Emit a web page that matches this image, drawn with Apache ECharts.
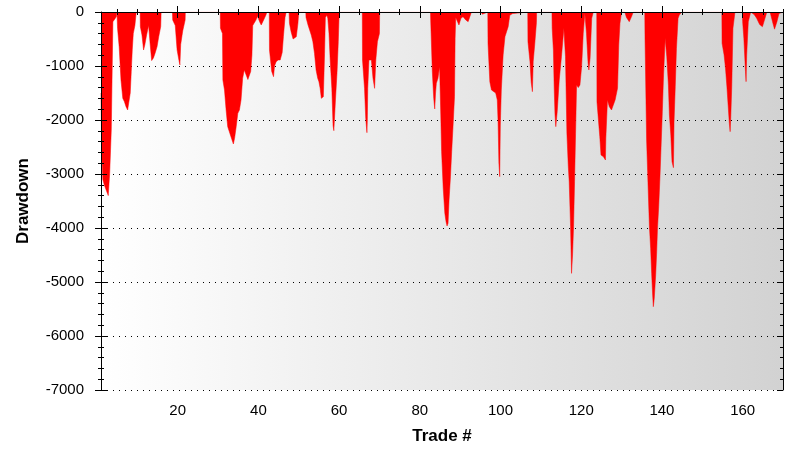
<!DOCTYPE html>
<html>
<head>
<meta charset="utf-8">
<script src="https://cdn.jsdelivr.net/npm/echarts@6/dist/echarts.min.js"></script>
<style>
html,body{margin:0;padding:0;background:#fff;}
#chart{width:812px;height:462px;}
</style>
</head>
<body>
<div id="chart"></div>
<script>
// Trade number (x) of each drawdown sample
const tradeNo = [
  1.0,1.2,1.45,1.8,2.3,2.8,3.05,3.15,3.45,3.55,3.7,3.88,3.95,4.3,4.8,4.95,
  5.1,5.5,5.95,6.4,6.8,7.2,7.6,7.85,8.05,8.25,8.5,8.75,9.0,9.4,9.65,9.75,
  10.7,10.75,11.15,11.55,11.75,11.85,12.3,12.8,13.0,13.2,13.55,13.75,14.0,14.4,14.9,15.3,15.8,15.9,
  18.7,18.77,19.4,19.85,20.3,20.55,20.75,21.25,21.85,21.9,
  30.55,30.6,31.1,31.2,31.6,32.0,32.4,32.8,33.2,33.8,34.1,34.5,34.9,35.3,35.7,36.1,36.5,36.96,37.4,37.8,38.1,38.4,38.6,39.4,39.8,40.3,40.7,41.1,41.9,42.1,
  42.7,42.75,43.3,43.75,44.0,44.4,44.9,45.4,45.9,46.2,46.6,46.9,
  47.6,47.7,48.1,48.6,48.8,49.4,49.8,50.0,
  51.75,51.8,52.3,52.7,53.1,53.5,53.9,54.3,54.7,55.0,55.3,55.6,55.8,56.1,56.4,56.6,56.97,57.2,57.5,57.8,58.2,58.5,58.7,59.1,59.5,59.8,60.0,60.05,
  65.75,65.8,66.3,66.6,66.9,67.0,67.1,67.4,68.0,68.4,68.8,69.0,69.1,69.5,70.0,70.05,
  82.65,82.7,83.1,83.45,83.7,83.9,84.1,84.5,84.9,85.2,85.4,85.8,86.2,86.5,86.75,87.0,87.25,87.6,87.9,88.25,88.6,88.75,88.9,
  89.1,89.7,90.2,90.7,91.4,91.97,92.4,92.8,
  95.2,95.5,96.1,96.2,
  96.85,96.9,97.35,97.76,98.2,98.8,99.2,99.4,99.6,99.8,99.95,100.2,100.65,101.1,101.5,101.9,102.3,103.0,103.05,
  106.75,106.8,107.3,107.6,107.9,108.1,108.5,108.9,108.95,
  112.75,112.8,113.1,113.3,113.5,113.7,113.9,114.05,114.55,115.1,115.7,116.1,116.45,116.8,117.02,117.36,117.6,117.8,117.85,118.1,118.35,118.6,118.85,119.27,119.68,120.1,120.5,120.9,121.3,121.7,121.9,122.2,122.6,123.0,
  123.85,123.9,124.6,124.9,125.5,126.0,126.1,126.5,126.96,127.5,128.4,129.0,129.3,129.6,130.0,
  130.8,131.2,131.9,132.5,132.9,
  135.75,135.8,136.2,136.6,136.9,137.2,137.45,137.7,137.87,138.1,138.45,138.7,138.9,139.2,139.5,139.8,140.1,140.4,140.8,141.2,141.6,141.85,142.2,142.5,142.85,143.0,143.3,143.6,144.0,144.3,144.9,
  154.85,154.9,155.4,155.75,156.1,156.4,156.7,156.9,157.05,157.3,157.6,158.1,
  159.95,160.0,160.3,160.7,160.85,161.0,161.4,162.0,
  162.9,163.5,164.2,164.9,165.2,166.0,
  166.8,167.4,167.9,168.5,169.0,169.1,170.0
];
// Drawdown value at each sample
const drawdown = [
  -1500,-2650,-3100,-3200,-3300,-3400,-3400,-2990,-2990,-2185,-1414,-1414,-180,-150,-90,0,
  -302,-642,-1259,-1599,-1660,-1753,-1815,-1830,-1815,-1500,-1100,-700,-400,-250,-60,0,
  0,-272,-426,-704,-704,-611,-426,-250,-250,-611,-900,-920,-850,-765,-640,-460,-270,0,
  0,-148,-250,-700,-890,-980,-600,-350,-150,0,
  0,-300,-400,-1259,-1444,-1815,-2123,-2216,-2309,-2444,-2340,-2123,-1877,-1815,-1630,-1228,-1074,-1105,-1250,-1250,-1100,-800,-250,-150,-80,-180,-241,-180,-50,0,
  0,-704,-1100,-1198,-1000,-920,-889,-889,-750,-457,-100,0,
  0,-210,-364,-500,-519,-457,-210,0,
  0,-100,-241,-333,-426,-549,-765,-1074,-1228,-1290,-1414,-1599,-1630,-1568,-765,-100,-60,-117,-400,-900,-1414,-2100,-2198,-1630,-1105,-549,-50,0,
  0,-889,-1414,-1969,-2235,-2000,-1414,-889,-889,-1228,-1414,-1414,-889,-549,-400,0,
  0,-150,-1100,-1599,-1796,-1500,-1321,-1228,-1012,-1907,-2586,-3265,-3728,-3883,-3963,-3914,-3481,-3049,-2586,-2093,-1568,-488,-100,
  -117,-241,-117,-86,-148,-179,-86,0,
  0,-40,-25,0,
  0,-580,-1290,-1444,-1475,-1500,-1630,-2031,-2800,-3049,-2093,-1444,-796,-457,-364,-272,-60,-30,0,
  0,-549,-920,-1300,-1475,-920,-580,-200,0,
  0,-300,-704,-1400,-1900,-2123,-2155,-1846,-1259,-827,-300,-827,-2247,-2864,-3142,-3975,-4840,-4870,-4500,-3975,-3142,-2247,-1352,-1400,-1352,-1012,-395,-25,-395,-950,-1074,-850,-117,0,
  0,-1660,-2309,-2648,-2679,-2741,-2340,-1630,-1753,-1815,-1630,-1414,-611,-210,0,
  0,-100,-179,-80,0,
  0,-450,-2370,-3296,-3975,-4377,-4840,-5241,-5457,-5302,-4870,-4438,-4006,-3605,-3080,-2463,-1846,-1167,-488,-827,-1352,-1907,-2278,-2772,-2883,-2031,-1383,-673,-117,-56,0,
  0,-580,-796,-1043,-1383,-1722,-2062,-2216,-1969,-1383,-302,0,
  0,-179,-488,-1100,-1290,-800,-179,0,
  -50,-120,-230,-272,-200,0,
  0,-179,-318,-179,-30,0,0
];
// Axis tick values
const xLabelValues = [20, 40, 60, 80, 100, 120, 140, 160];
const xMinorValues = [5,10,15,25,30,35,45,50,55,65,70,75,85,90,95,105,110,115,125,130,135,145,150,155,165,170];
const yMin = -7000, yMax = 0, yStep = 1000;
const xMin = 1, xMax = 170;

const points = tradeNo.map((t, i) => [t, drawdown[i]]);

const FONT = "'Liberation Sans', Arial, sans-serif";
const BLACK = '#000';

function xAx(pos, values, len, inside, extra) {
  return Object.assign({
    type: 'value', gridIndex: 0, position: pos, min: xMin, max: xMax,
    z: 5,
    axisLine: { show: false },
    splitLine: { show: false },
    axisLabel: { show: false },
    axisTick: { show: true, inside: inside, length: len, customValues: values,
      lineStyle: { color: BLACK, width: 1 } }
  }, extra || {});
}
function yAx(pos, len, inside, extra) {
  return Object.assign({
    type: 'value', gridIndex: 0, position: pos, min: yMin, max: yMax, interval: yStep,
    z: 5,
    axisLine: { show: false },
    splitLine: { show: false },
    axisLabel: { show: false },
    axisTick: { show: true, inside: inside, length: len, lineStyle: { color: BLACK, width: 1 } },
    minorTick: { show: true, splitNumber: 5, length: Math.round(len / 2), lineStyle: { color: BLACK, width: 1 } }
  }, extra || {});
}

const chart = echarts.init(document.getElementById('chart'), null, { renderer: 'canvas' });
chart.setOption({
  animation: false,
  backgroundColor: '#ffffff',
  grid: {
    left: 101, top: 12, width: 682, height: 378,
    show: true, borderWidth: 0,
    backgroundColor: {
      type: 'linear', x: 0, y: 0, x2: 1, y2: 0,
      colorStops: [{ offset: 0, color: '#ffffff' }, { offset: 1, color: '#d2d2d2' }]
    }
  },
  xAxis: [
    xAx('bottom', xLabelValues, 6, false, {
      axisLine: { show: true, lineStyle: { color: BLACK, width: 1 } },
      axisLabel: { show: true, customValues: xLabelValues, margin: 13, color: BLACK,
        fontFamily: FONT, fontSize: 15 },
      name: 'Trade #', nameLocation: 'middle', nameGap: 38,
      nameTextStyle: { color: BLACK, fontFamily: FONT, fontSize: 17, fontWeight: 'bold' }
    }),
    xAx('bottom', xLabelValues, 6, true),
    xAx('bottom', xMinorValues, 3, false),
    xAx('bottom', xMinorValues, 3, true),
    xAx('top', xLabelValues, 6, true, { axisLine: { show: true, lineStyle: { color: BLACK, width: 1 } } }),
    xAx('top', xMinorValues, 3, true)
  ],
  yAxis: [
    yAx('left', 6, false, {
      axisLine: { show: true, lineStyle: { color: BLACK, width: 1 } },
      axisLabel: { show: true, margin: 17, color: BLACK, fontFamily: FONT, fontSize: 15,
        formatter: v => String(v) },
      name: 'Drawdown', nameLocation: 'middle', nameGap: 69,
      nameTextStyle: { color: BLACK, fontFamily: FONT, fontSize: 17, fontWeight: 'bold' }
    }),
    yAx('left', 6, true),
    yAx('right', 6, true, { axisLine: { show: true, lineStyle: { color: BLACK, width: 1 } } }),
    {
      type: 'value', gridIndex: 0, position: 'left', min: yMin, max: yMax, interval: yStep,
      z: 0,
      axisLine: { show: false }, axisTick: { show: false }, axisLabel: { show: false },
      splitLine: { show: true, lineStyle: { color: BLACK, width: 1, type: [1, 5] } }
    }
  ],
  series: [{
    type: 'line',
    xAxisIndex: 0, yAxisIndex: 0,
    data: points,
    symbol: 'none',
    z: 2,
    lineStyle: { color: '#ff0000', width: 0.5 },
    areaStyle: { color: '#ff0000', opacity: 1 }
  }]
});
</script>
</body>
</html>
